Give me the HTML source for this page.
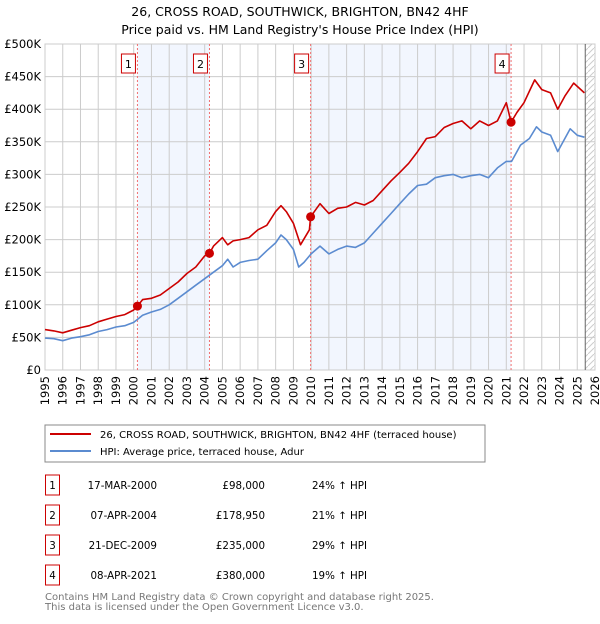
<!DOCTYPE html>
<html><head><meta charset="utf-8"><style>
body{margin:0;background:#fff;font-family:"DejaVu Sans","Liberation Sans",sans-serif;}
svg text{font-family:"DejaVu Sans","Liberation Sans",sans-serif;}
</style></head><body>
<svg id="chart" width="600" height="620" xmlns="http://www.w3.org/2000/svg">
<defs><pattern id="hatch" width="6" height="6" patternUnits="userSpaceOnUse"><path d="M0,6 L6,0" stroke="#ccc" stroke-width="1"/></pattern></defs>
<text x="300" y="16" text-anchor="middle" font-size="12.5">26, CROSS ROAD, SOUTHWICK, BRIGHTON, BN42 4HF</text>
<text x="300" y="34" text-anchor="middle" font-size="12.5">Price paid vs. HM Land Registry's House Price Index (HPI)</text>
<g id="plot"></g>
<g>
<rect x="45" y="425" width="440" height="37" fill="#fff" stroke="#888"/>
<line x1="50" y1="434" x2="91" y2="434" stroke="#cc0000" stroke-width="2"/>
<text x="100" y="438" font-size="10">26, CROSS ROAD, SOUTHWICK, BRIGHTON, BN42 4HF (terraced house)</text>
<line x1="50" y1="451" x2="91" y2="451" stroke="#5b8bd0" stroke-width="2"/>
<text x="100" y="455" font-size="10">HPI: Average price, terraced house, Adur</text>
</g>
<g id="table" font-size="10.3"></g>
<text x="45" y="600" font-size="10" fill="#777">Contains HM Land Registry data © Crown copyright and database right 2025.</text>
<text x="45" y="610" font-size="10" fill="#777">This data is licensed under the Open Government Licence v3.0.</text>
</svg>
<script>
const hpiYears=[1995,1995.5,1996,1996.5,1997,1997.5,1998,1998.5,1999,1999.5,2000,2000.5,2001,2001.5,2002,2002.5,2003,2003.5,2004,2004.5,2005,2005.3,2005.6,2006,2006.5,2007,2007.5,2008,2008.3,2008.6,2009,2009.3,2009.6,2010,2010.5,2011,2011.5,2012,2012.5,2013,2013.5,2014,2014.5,2015,2015.5,2016,2016.5,2017,2017.5,2018,2018.5,2019,2019.5,2020,2020.5,2021,2021.3,2021.8,2022.3,2022.7,2023,2023.5,2023.9,2024.2,2024.6,2025,2025.4];
const hpiValues=[49,48,45,49,51,54,59,62,66,68,73,84,89,93,100,110,120,130,140,150,160,170,158,165,168,170,183,195,207,200,185,158,165,178,190,178,185,190,188,195,210,225,240,255,270,283,285,295,298,300,295,298,300,295,310,320,320,345,355,373,365,360,335,350,370,360,357];
const priceYears=[1995,1995.5,1996,1996.5,1997,1997.5,1998,1998.5,1999,1999.5,2000,2000.21,2000.5,2001,2001.5,2002,2002.5,2003,2003.5,2004,2004.27,2004.5,2005,2005.3,2005.6,2006,2006.5,2007,2007.5,2008,2008.3,2008.6,2009,2009.4,2009.9,2009.97,2010.5,2011,2011.5,2012,2012.5,2013,2013.5,2014,2014.5,2015,2015.5,2016,2016.5,2017,2017.5,2018,2018.5,2019,2019.5,2020,2020.5,2021,2021.27,2021.6,2022,2022.6,2023,2023.5,2023.9,2024.3,2024.8,2025.4];
const priceValues=[62,60,57,61,65,68,74,78,82,85,92,98,108,110,115,125,135,148,158,175,179,190,203,192,198,200,203,215,222,243,252,243,225,192,215,235,255,240,248,250,257,253,260,275,290,303,317,335,355,358,372,378,382,370,382,375,382,410,380,395,410,445,430,425,400,420,440,425];
const saleYears=[2000.21,2004.27,2009.97,2021.27];
const saleValues=[98,178.95,235,380];
const saleLabels=["1","2","3","4"];
const saleDates=["17-MAR-2000","07-APR-2004","21-DEC-2009","08-APR-2021"];
const salePrices=["£98,000","£178,950","£235,000","£380,000"];
const saleHpi=["24% ↑ HPI","21% ↑ HPI","29% ↑ HPI","19% ↑ HPI"];
const yTicks=[0,50,100,150,200,250,300,350,400,450,500];
const yTickLabels=["£0","£50K","£100K","£150K","£200K","£250K","£300K","£350K","£400K","£450K","£500K"];
const xTicks=[1995,1996,1997,1998,1999,2000,2001,2002,2003,2004,2005,2006,2007,2008,2009,2010,2011,2012,2013,2014,2015,2016,2017,2018,2019,2020,2021,2022,2023,2024,2025,2026];

const NS="http://www.w3.org/2000/svg";
const X0=45,X1=595,Y0=370,Y1=44;
const xs=y=>X0+(y-1995)/31*(X1-X0);
const ys=v=>Y0-v/500*(Y0-Y1);
const plot=document.getElementById('plot');
function mk(tag,attrs,parent){const e=document.createElementNS(NS,tag);for(const k in attrs)e.setAttribute(k,attrs[k]);(parent||plot).appendChild(e);return e;}

for(const [a,b] of [[0,1],[2,3]]){
  const r=mk('rect',{x:xs(saleYears[a]),y:Y1,width:xs(saleYears[b])-xs(saleYears[a]),height:Y0-Y1,fill:'#f2f6fe'});
  
  
}
const hx=xs(2025.45);
const hr=mk('rect',{x:hx,y:Y1,width:X1-hx,height:Y0-Y1,fill:'url(#hatch)'});



yTicks.forEach((t,i)=>{
  mk('line',{x1:X0,y1:ys(t),x2:X1,y2:ys(t),stroke:'#ccc','stroke-width':1});
  const tx=mk('text',{x:X0-4,y:ys(t)+4,'text-anchor':'end','font-size':'11.5'});
  tx.textContent=yTickLabels[i];
  
  
});
xTicks.forEach(t=>{
  mk('line',{x1:xs(t),y1:Y1,x2:xs(t),y2:Y0,stroke:'#ccc','stroke-width':1});
  const tx=mk('text',{x:0,y:0,'text-anchor':'end','font-size':'11.5',transform:`translate(${xs(t)+4},${Y0+6}) rotate(-90)`});
  tx.textContent=t;
  
  
});
mk('rect',{x:X0,y:Y1,width:X1-X0,height:Y0-Y1,fill:'none',stroke:'#ccc'});
mk('line',{x1:hx,y1:Y1,x2:hx,y2:Y0,stroke:'#666','stroke-width':1});

saleYears.forEach((y,i)=>{
  const l=mk('line',{x1:xs(y),y1:Y1,x2:xs(y),y2:Y0,stroke:'#f07070','stroke-width':1,'stroke-dasharray':'2,2'});
  
  
  const g=mk('g',{});
  
  
  mk('rect',{x:xs(y)-16,y:54,width:14,height:19,fill:'#fff',stroke:'#cc0000'},g);
  const t=mk('text',{x:xs(y)-9,y:68,'text-anchor':'middle','font-size':'11'},g);
  t.textContent=saleLabels[i];
});

function line(xa,va,color,name){
  const d=xa.map((y,i)=>(i?'L':'M')+xs(y).toFixed(1)+','+ys(va[i]).toFixed(1)).join('');
  const p=mk('path',{d,fill:'none',stroke:color,'stroke-width':1.6,'stroke-linejoin':'round'});
  
  
}
line(hpiYears,hpiValues,'#5b8bd0','hpi-line');
line(priceYears,priceValues,'#cc0000','price-line');
saleYears.forEach((y,i)=>{
  const c=mk('circle',{cx:xs(y),cy:ys(saleValues[i]),r:4.5,fill:'#cc0000'});
  
  
});

const tb=document.getElementById('table');
saleLabels.forEach((s,i)=>{
  const yy=475+i*30;
  const g=mk('g',{},tb);
  
  
  mk('rect',{x:45.5,y:yy,width:14,height:20,fill:'#fff',stroke:'#cc0000'},g);
  let t=mk('text',{x:52.5,y:yy+14,'text-anchor':'middle'},g);t.textContent=s;
  t=mk('text',{x:157,y:yy+14,'text-anchor':'end'},g);t.textContent=saleDates[i];
  t=mk('text',{x:265,y:yy+14,'text-anchor':'end'},g);t.textContent=salePrices[i];
  t=mk('text',{x:312,y:yy+14},g);t.textContent=saleHpi[i];
});
</script>
</body></html>
